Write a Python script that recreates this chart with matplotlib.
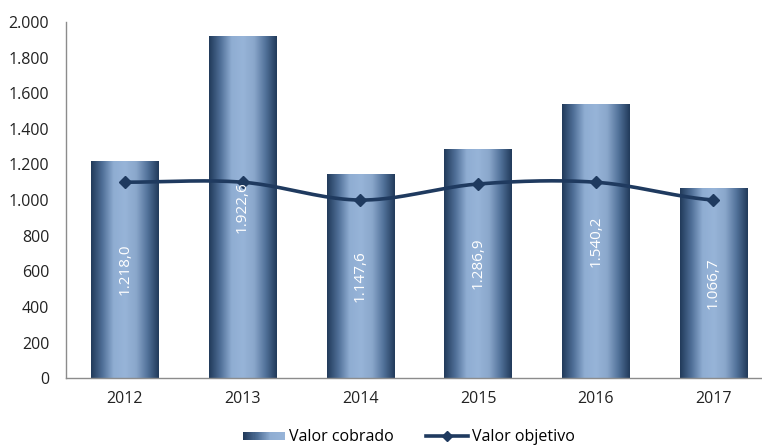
import numpy as np
import matplotlib
matplotlib.use("Agg")
import matplotlib.pyplot as plt
from matplotlib.colors import LinearSegmentedColormap
from matplotlib.lines import Line2D
from matplotlib.patches import Rectangle
from matplotlib.legend_handler import HandlerPatch

plt.rcParams['font.family'] = ['Open Sans', 'DejaVu Sans']

years = ["2012", "2013", "2014", "2015", "2016", "2017"]
valor_cobrado = [1218.0, 1922.6, 1147.6, 1286.9, 1540.2, 1066.7]
valor_objetivo = [1100, 1100, 1000, 1090, 1100, 1000]
y_ticks = [0, 200, 400, 600, 800, 1000, 1200, 1400, 1600, 1800, 2000]


def fmt_pt(v, decimals=0):
    s = f"{v:,.{decimals}f}"
    return s.replace(",", "X").replace(".", ",").replace("X", ".")


def smooth(xs, ys, n=40):
    # Catmull-Rom spline through the points
    xs = np.asarray(xs, float)
    ys = np.asarray(ys, float)
    px = np.concatenate([[2 * xs[0] - xs[1]], xs, [2 * xs[-1] - xs[-2]]])
    py = np.concatenate([[ys[0]], ys, [ys[-1]]])
    ox, oy = [], []
    for i in range(1, len(px) - 2):
        t = np.linspace(0, 1, n, endpoint=(i == len(px) - 3))
        for arr, out in ((px, ox), (py, oy)):
            p0, p1, p2, p3 = arr[i - 1], arr[i], arr[i + 1], arr[i + 2]
            out.extend(0.5 * (2 * p1 + (-p0 + p2) * t
                              + (2 * p0 - 5 * p1 + 4 * p2 - p3) * t ** 2
                              + (-p0 + 3 * p1 - 3 * p2 + p3) * t ** 3))
    return np.array(ox), np.array(oy)


bar_cmap = LinearSegmentedColormap.from_list(
    "bar", ["#213a5a", "#4f6f97", "#8fadd2", "#97b4d8", "#8aa7cb", "#52729a", "#213a5a"])
gradient = np.linspace(0, 1, 256).reshape(1, -1)

fig = plt.figure(figsize=(7.62, 4.47), dpi=100)
ax = fig.add_axes([0.0866, 0.154, 0.927, 0.797])

x = np.arange(len(years))
width = 0.57
bars = ax.bar(x, valor_cobrado, width=width, color="none", edgecolor="none", zorder=2)
for b in bars:
    im = ax.imshow(gradient, cmap=bar_cmap, aspect="auto",
                   extent=[b.get_x(), b.get_x() + b.get_width(), 0, b.get_height()],
                   zorder=2, interpolation="bicubic")
    im.set_clip_path(b)

sx, sy = smooth(x, valor_objetivo)
line_color = "#1f3a5f"
ax.plot(sx, sy, color=line_color, lw=2.6, zorder=3, solid_capstyle="round")
ax.plot(x, valor_objetivo, ls="none", marker="D", ms=6.5, color=line_color, zorder=3)

for xi, v in zip(x, valor_cobrado):
    ax.text(xi, v / 2, fmt_pt(v, 1), rotation=90, ha="center", va="center",
            color="white", fontsize=11, zorder=4)

ax.set_xlim(-0.5, 5.5)
ax.set_ylim(0, 2000)
ax.set_xticks(x)
ax.set_xticklabels(years, fontsize=11.5)
ax.set_yticks(y_ticks)
ax.set_yticklabels([fmt_pt(t) for t in y_ticks], fontsize=11.5)
ax.tick_params(length=0, pad=9, colors="#222222")
ax.tick_params(axis="y", pad=12)
for s in ("top", "right"):
    ax.spines[s].set_visible(False)
for s in ("left", "bottom"):
    ax.spines[s].set_color("#8c8c8c")
    ax.spines[s].set_linewidth(1.0)


class GradientHandler(HandlerPatch):
    def create_artists(self, legend, orig_handle, xdescent, ydescent,
                       width, height, fontsize, trans):
        y0 = -ydescent + height * 0.12
        h = height * 0.72
        arts = []
        n = 40
        cols = bar_cmap(np.linspace(0, 0.5, n))
        for i in range(n):
            r = Rectangle((-xdescent + width * i / n, y0), width / n + 0.3, h,
                          facecolor=cols[i], edgecolor="none", transform=trans)
            arts.append(r)
        return arts


bar_handle = Rectangle((0, 0), 1, 1)
line_handle = Line2D([], [], color=line_color, lw=2.6, marker="D", ms=5.5)
fig.legend([bar_handle, line_handle], ["Valor cobrado", "Valor objetivo"],
           loc="center", bbox_to_anchor=(0.537, 0.022), ncol=2, frameon=False,
           fontsize=11.5, handlelength=2.6, columnspacing=2.0, handletextpad=0.3,
           handler_map={Rectangle: GradientHandler()})

fig.savefig("out.png", dpi=100)
